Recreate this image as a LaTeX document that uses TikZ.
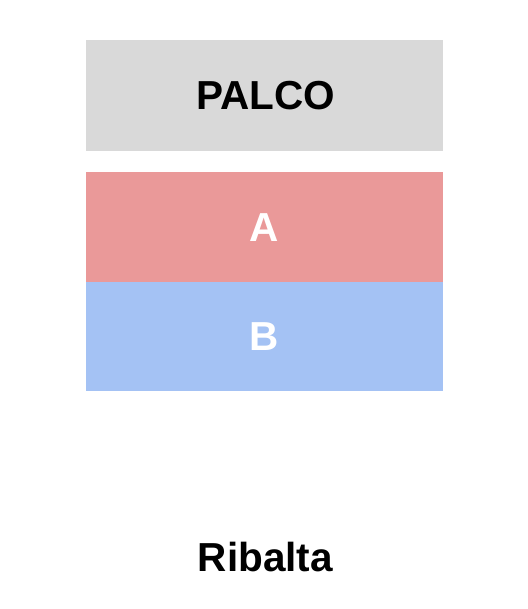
\documentclass[tikz,border=0pt]{standalone}
\usepackage{fontspec}
\setmainfont{Liberation Sans}
\definecolor{palcogray}{HTML}{D9D9D9}
\definecolor{seatred}{HTML}{EA9999}
\definecolor{seatblue}{HTML}{A4C2F4}
\begin{document}
\begin{tikzpicture}[x=1pt,y=1pt,
  zone/.style={rectangle,inner sep=0pt,outer sep=0pt,draw=none,minimum width=357pt},
  label/.style={anchor=base,inner sep=0pt,font=\fontsize{40.5}{48}\selectfont\bfseries}]
\useasboundingbox (0,0) rectangle (527,609);
\node[zone,fill=palcogray,minimum height=111pt,anchor=south west] (palco) at (86,458) {};
\node[zone,fill=seatred,minimum height=110pt,anchor=south west] (secA) at (86,327) {};
\node[zone,fill=seatblue,minimum height=109.5pt,anchor=south west] (secB) at (86,217.5) {};
\node[label,text=black] (tp) at (266,499) {PALCO};
\node[label,text=white] (ta) at (264.5,367.3) {A};
\node[label,text=white] (tb) at (264.5,258) {B};
\node[label,text=black] (rib) at (265.4,37) {Ribalta};
\end{tikzpicture}
\end{document}
